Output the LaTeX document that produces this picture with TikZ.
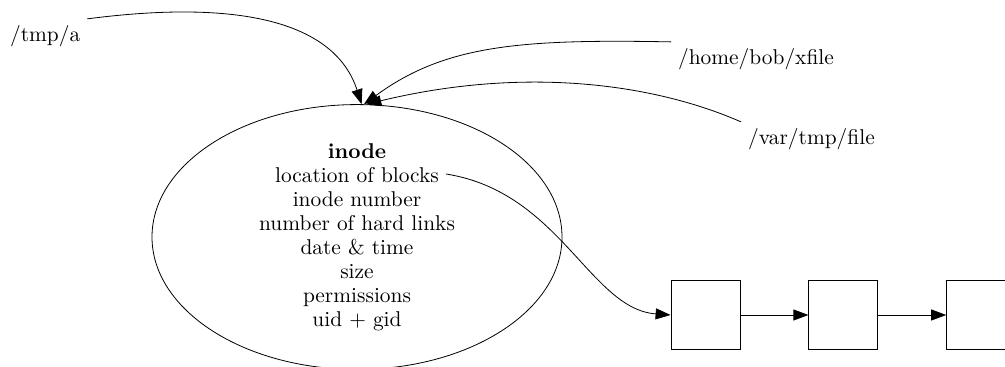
\documentclass[tikz,border=0pt]{standalone}
\usetikzlibrary{arrows.meta, calc, positioning, shapes.geometric}

\begin{document}
\begin{tikzpicture}[x=0.5pt, y=0.5pt, font=\fontsize{10.7pt}{12pt}\selectfont]
	\def\blk{34.5pt};
	\def\gap{34pt};

	\useasboundingbox (0,0) rectangle (1005,367);

	\node [ellipse, draw, minimum width=205pt, minimum height=131pt, inner sep=0pt, align=center] (inode) at (357,130)
		{\textbf{inode}\\ location of blocks\\ inode number\\ number of hard links\\ date \& time\\ size\\ permissions\\ uid + gid};
	\coordinate (blocks) at ($(inode.center)+(89,63)$);

	\node [anchor=base west] (tmpa) at (3,325) {/tmp/a};
	\node [anchor=base west] (xfile) at (671,302) {/home/bob/xfile};
	\node [anchor=base west] (vartmp) at (741,222) {/var/tmp/file};

	\node [draw, minimum size=\blk] (blka) at (705.5,52) {};
	\node [draw, minimum size=\blk, right=\gap of blka] (blkb) {};
	\node [draw, minimum size=\blk, right=\gap of blkb] (blkc) {};

	\begin{scope}[-{Triangle[length=7.5pt, width=5.5pt]}]
		\draw (tmpa.north east) .. controls (240,368) and (335,345) .. (inode.88);
		\draw (xfile.north west) .. controls (520,328) and (445,322) .. (inode.87);
		\draw (vartmp.north west) .. controls (650,285) and (520,300) .. (inode.86);
		\draw (blocks) .. controls (560,175) and (590,58) .. (blka.west);
		\draw (blka) -- (blkb);
		\draw (blkb) -- (blkc);
	\end{scope}
\end{tikzpicture}
\end{document}
